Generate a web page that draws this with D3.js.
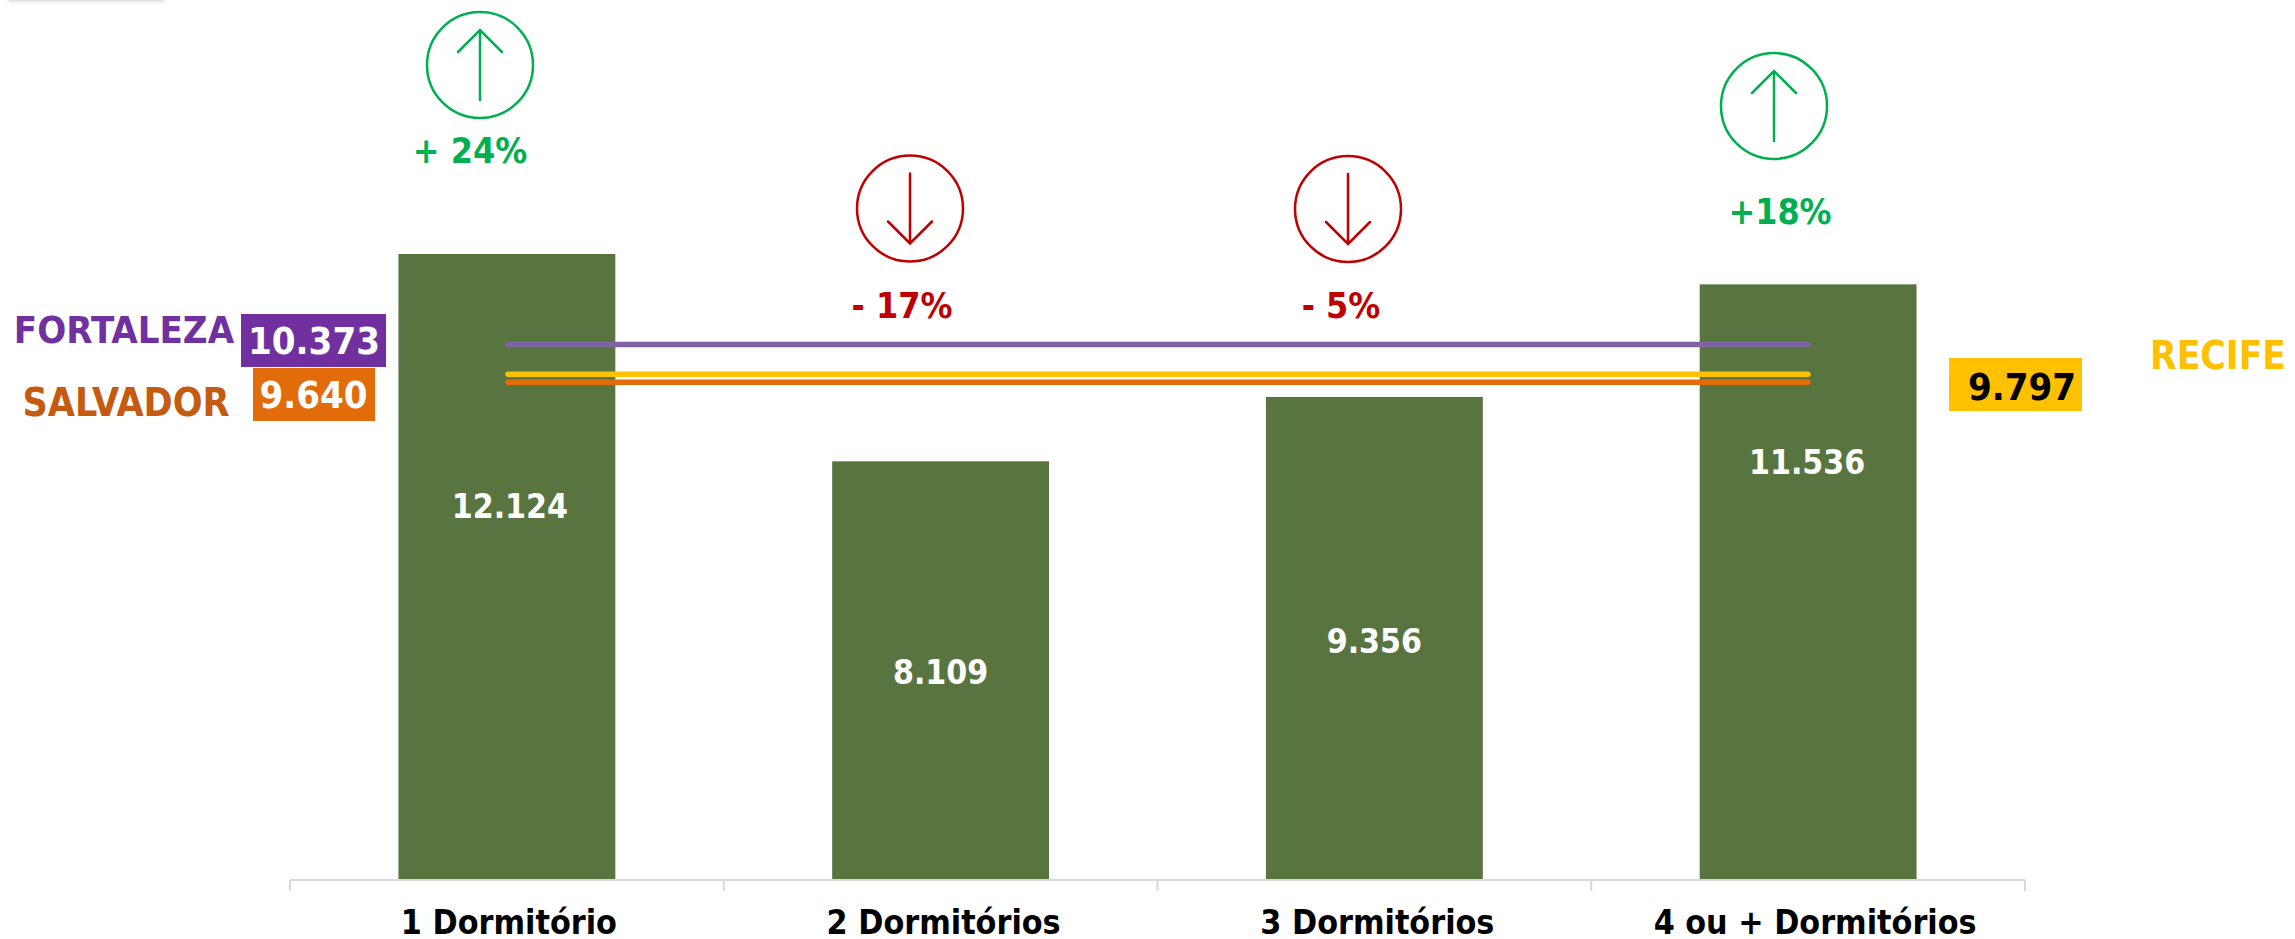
<!DOCTYPE html>
<html>
<head>
<meta charset="utf-8">
<script src="https://cdn.jsdelivr.net/npm/d3@7"></script>
<style>
  html, body { margin: 0; padding: 0; background: #fff; }
  svg { display: block; }
  text { font-family: "DejaVu Sans"; font-stretch: condensed; font-weight: bold; }
</style>
</head>
<body>
<script>
const categorias = ["1 Dormitório", "2 Dormitórios", "3 Dormitórios", "4 ou + Dormitórios"];
const valores = [12124, 8109, 9356, 11536];
const variacao = ["+ 24%", "- 17%", "- 5%", "+18%"];
const cidades = ["FORTALEZA", "RECIFE", "SALVADOR"];
const medias = [10373, 9797, 9640];

const paleta = {
  barra: "#58743F",
  verde: "#00B050",
  vermelho: "#C00000",
  eixo: "#D9D9D9"
};

// cor da linha, da caixa e do nome de cada cidade
const corLinha = ["#8064A2", "#FFC000", "#E36C0A"];
const corCaixa = ["#7030A0", "#FFC000", "#E36C0A"];
const corNome = ["#7030A0", "#FFC000", "#C55A11"];
const corValor = ["#fff", "#000", "#fff"];

const width = 2295;
const height = 939;
const fmt = d3.format(",d");
const milhar = v => fmt(v).replace(",", ".");

const x = d3.scaleBand()
    .domain(categorias)
    .range([290, 2025])
    .paddingInner(0.5)
    .paddingOuter(0.25);

const y = d3.scaleLinear()
    .domain([0, 12124])
    .range([880, 254]);

const svg = d3.select("body").append("svg")
    .attr("width", width)
    .attr("height", height)
    .attr("viewBox", [0, 0, width, height]);

// sombra clara que aparece no canto superior esquerdo
const blur = svg.append("defs").append("filter")
    .attr("id", "sombra")
    .attr("x", "-10%").attr("y", "-100%")
    .attr("width", "120%").attr("height", "300%");
blur.append("feGaussianBlur").attr("stdDeviation", 2.5);
svg.append("rect")
    .attr("x", 8).attr("y", -12)
    .attr("width", 156).attr("height", 12)
    .attr("fill", "#888")
    .attr("opacity", 0.6)
    .attr("filter", "url(#sombra)");

// barras
svg.append("g")
  .selectAll("rect")
  .data(valores)
  .join("rect")
    .attr("x", (d, i) => x(categorias[i]))
    .attr("y", d => y(d))
    .attr("width", x.bandwidth())
    .attr("height", d => y(0) - y(d))
    .attr("fill", paleta.barra);

// eixo x: ticks nas divisas das categorias
const ticksEixo = x.domain().map(c => x(c) - x.step() * 0.25).concat(2025);
const eixo = svg.append("g").attr("stroke", paleta.eixo).attr("stroke-width", 2);
eixo.append("line")
    .attr("x1", 290).attr("x2", 2025)
    .attr("y1", y(0)).attr("y2", y(0));
eixo.selectAll(".tick")
  .data(ticksEixo)
  .join("line")
    .attr("class", "tick")
    .attr("x1", d => d).attr("x2", d => d)
    .attr("y1", y(0)).attr("y2", y(0) + 11);

const ajusteCategoria = [2, 3, 3, 7];
svg.append("g")
  .selectAll("text")
  .data(categorias)
  .join("text")
    .attr("x", (d, i) => x(d) + x.bandwidth() / 2 + ajusteCategoria[i])
    .attr("y", 934)
    .attr("text-anchor", "middle")
    .attr("font-size", 33.7)
    .attr("fill", "#000")
    .text(d => d);

// rótulos dos valores dentro das barras
const rotuloY = [518, 684, 653, 474];
svg.append("g")
  .selectAll("text")
  .data(valores)
  .join("text")
    .attr("x", (d, i) => x(categorias[i]) + x.bandwidth() / 2 + [3, 0, 0, -1][i])
    .attr("y", (d, i) => rotuloY[i])
    .attr("text-anchor", "middle")
    .attr("font-size", 33.5)
    .attr("fill", "#fff")
    .text(milhar);

// linhas das médias
svg.append("g")
  .selectAll("line")
  .data(medias)
  .join("line")
    .attr("x1", 508)
    .attr("x2", 1808)
    .attr("y1", d => y(d))
    .attr("y2", d => y(d))
    .attr("stroke", (d, i) => corLinha[i])
    .attr("stroke-width", 5.5)
    .attr("stroke-linecap", "round");

// caixas com o valor e nome das cidades
const caixas = [
  {x: 241, y: 314, w: 145, h: 53, tx: 314, ty: 354},
  {x: 1949, y: 358, w: 133, h: 53, tx: 2022, ty: 400},
  {x: 253, y: 368, w: 122, h: 53, tx: 313.5, ty: 408}
];
const nomes = [
  {x: 124, y: 343, fs: 38},
  {x: 2218, y: 369, fs: 38.5},
  {x: 126, y: 416, fs: 39}
];

svg.append("g")
  .selectAll("rect")
  .data(caixas)
  .join("rect")
    .attr("x", d => d.x).attr("y", d => d.y)
    .attr("width", d => d.w).attr("height", d => d.h)
    .attr("fill", (d, i) => corCaixa[i]);

svg.append("g")
  .selectAll("text")
  .data(medias)
  .join("text")
    .attr("x", (d, i) => caixas[i].tx)
    .attr("y", (d, i) => caixas[i].ty)
    .attr("text-anchor", "middle")
    .attr("font-size", 38)
    .attr("fill", (d, i) => corValor[i])
    .text(milhar);

svg.append("g")
  .selectAll("text")
  .data(cidades)
  .join("text")
    .attr("x", (d, i) => nomes[i].x)
    .attr("y", (d, i) => nomes[i].y)
    .attr("text-anchor", "middle")
    .attr("font-size", (d, i) => nomes[i].fs)
    .attr("fill", (d, i) => corNome[i])
    .text(d => d);

// setas com círculo e variação
const setaCy = [65, 208.5, 209, 106];
const textoPos = [
  {x: 470, y: 163},
  {x: 902, y: 318},
  {x: 1341, y: 318},
  {x: 1780, y: 224}
];
const setaCx = [480, 910, 1348, 1774];

const setas = svg.append("g")
  .selectAll("g")
  .data(variacao)
  .join("g")
    .attr("transform", (d, i) => `translate(${setaCx[i]},${setaCy[i]})`)
    .attr("fill", "none")
    .attr("stroke", d => d.startsWith("+") ? paleta.verde : paleta.vermelho)
    .attr("stroke-width", 2.5)
    .attr("stroke-linecap", "round");

setas.append("circle").attr("r", 53);
// a seta aponta para cima nas altas e para baixo nas quedas
setas.append("path")
    .attr("d", d => {
      const s = d.startsWith("+") ? 1 : -1;
      return d3.line()([[0, 35 * s], [0, -35 * s]]) + d3.line()([[-22, -13 * s], [0, -35 * s], [22, -13 * s]]);
    });

svg.append("g")
  .selectAll("text")
  .data(variacao)
  .join("text")
    .attr("x", (d, i) => textoPos[i].x)
    .attr("y", (d, i) => textoPos[i].y)
    .attr("text-anchor", "middle")
    .attr("font-size", 35.5)
    .attr("fill", d => d.startsWith("+") ? paleta.verde : paleta.vermelho)
    .text(d => d);
</script>
</body>
</html>
